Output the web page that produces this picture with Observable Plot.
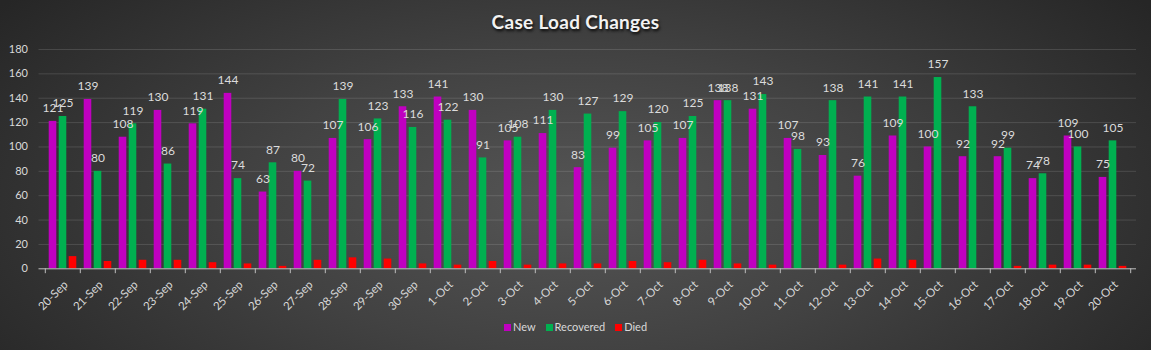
<!DOCTYPE html>
<html>
<head>
<meta charset="utf-8">
<script src="https://cdn.jsdelivr.net/npm/d3@7"></script>
<script src="https://cdn.jsdelivr.net/npm/@observablehq/plot@0.6"></script>
<style>
  html, body { margin: 0; padding: 0; background: #2a2a2a; }
  #wrap {
    position: relative; width: 1151px; height: 350px; overflow: hidden;
    background: radial-gradient(ellipse 62% 95% at 50% 58%, #555555 0%, #424242 45%, #262626 100%);
    font-family: Lato, "Open Sans", sans-serif;
  }
  #title {
    position: absolute; left: 0; top: 10px; width: 1151px; text-align: center;
    color: #f2f2f2; font-weight: bold; font-size: 19px; letter-spacing: 0.3px;
    text-shadow: 1px 2px 3px rgba(0,0,0,0.9);
  }
  #legend {
    position: absolute; left: 0; top: 320px; width: 1151px; text-align: center;
    color: #d9d9d9; font-size: 11px;
  }
  #legend span.item { margin: 0 5px; }
  #legend span.sw { display: inline-block; width: 7px; height: 7px; margin-right: 2px; vertical-align: 0px; }
  #chart { position: absolute; left: 0; top: 0; }
</style>
</head>
<body>
<div id="wrap">
  <div id="chart"></div>
  <div id="title">Case Load Changes</div>
  <div id="legend"></div>
</div>
<script>
const dates = ["20-Sep","21-Sep","22-Sep","23-Sep","24-Sep","25-Sep","26-Sep","27-Sep","28-Sep","29-Sep","30-Sep",
  "1-Oct","2-Oct","3-Oct","4-Oct","5-Oct","6-Oct","7-Oct","8-Oct","9-Oct","10-Oct",
  "11-Oct","12-Oct","13-Oct","14-Oct","15-Oct","16-Oct","17-Oct","18-Oct","19-Oct","20-Oct"];
const newCases  = [121,139,108,130,119,144,63,80,107,106,133,141,130,105,111,83,99,105,107,138,131,107,93,76,109,100,92,92,74,109,75];
const recovered = [125,80,119,86,131,74,87,72,139,123,116,122,91,108,130,127,129,120,125,138,143,98,138,141,141,157,133,99,78,100,105];
const died      = [10,6,7,7,5,4,2,7,9,8,4,3,6,3,4,4,6,5,7,4,3,0,3,8,7,0,0,2,3,3,2];
const yTicks = [0,20,40,60,80,100,120,140,160,180];
const seriesNames = ["New","Recovered","Died"];
const seriesColors = ["#c000c0","#00b050","#ff0000"];

const W = 1151, H = 350;
const mL = 38.5, mR = 15, mT = 49, mB = 81.7;
const bw = (W - mL - mR) / dates.length;
const barW = 8, gap = 2;
const groupW = 3 * barW + 2 * gap;
const off0 = (bw - groupW) / 2;

const rows = dates.map((d, i) => ({date: d, New: newCases[i], Recovered: recovered[i], Died: died[i]}));

function barsFor(key, k) {
  const left = off0 + k * (barW + gap);
  return Plot.barY(rows, {
    x: "date", y: key, fill: seriesColors[k],
    insetLeft: left, insetRight: bw - left - barW
  });
}
function labelsFor(key, k) {
  const center = off0 + k * (barW + gap) + barW / 2 - bw / 2;
  return Plot.text(rows, {
    x: "date", y: key, text: d => String(d[key]),
    dx: center, dy: -13, fill: "#dcdcdc", fontSize: 12
  });
}

const chart = Plot.plot({
  width: W, height: H,
  marginLeft: mL, marginRight: mR, marginTop: mT, marginBottom: mB,
  style: {background: "transparent", color: "#d9d9d9", fontFamily: "Lato, 'Open Sans', sans-serif", fontSize: "11px"},
  x: {domain: dates, padding: 0, axis: null},
  y: {domain: [0, 180], ticks: yTicks, tickSize: 0, tickPadding: 11, label: null},
  marks: [
    Plot.ruleY(yTicks.filter(t => t > 0), {stroke: "#ffffff", strokeOpacity: 0.13}),
    barsFor("New", 0), barsFor("Recovered", 1), barsFor("Died", 2),
    labelsFor("New", 0), labelsFor("Recovered", 1),
    Plot.ruleY([0], {stroke: "#bfbfbf", strokeWidth: 1}),
    Plot.ruleX(dates, {x: d => d, y1: 0, y2: -4, dx: -bw / 2, stroke: "#bfbfbf"}),
    Plot.ruleX([dates[dates.length - 1]], {x: d => d, y1: 0, y2: -4, dx: bw / 2, stroke: "#bfbfbf"}),
    Plot.text(dates, {x: d => d, y: () => 0, text: d => d, rotate: -45, textAnchor: "end",
      lineAnchor: "middle", dx: 3, dy: 14, fill: "#d9d9d9", fontSize: 11.5})
  ]
});
document.getElementById("chart").appendChild(chart);

const legend = document.getElementById("legend");
legend.innerHTML = seriesNames.map((n, i) =>
  `<span class="item"><span class="sw" style="background:${seriesColors[i]}"></span>${n}</span>`).join("");
</script>
</body>
</html>
